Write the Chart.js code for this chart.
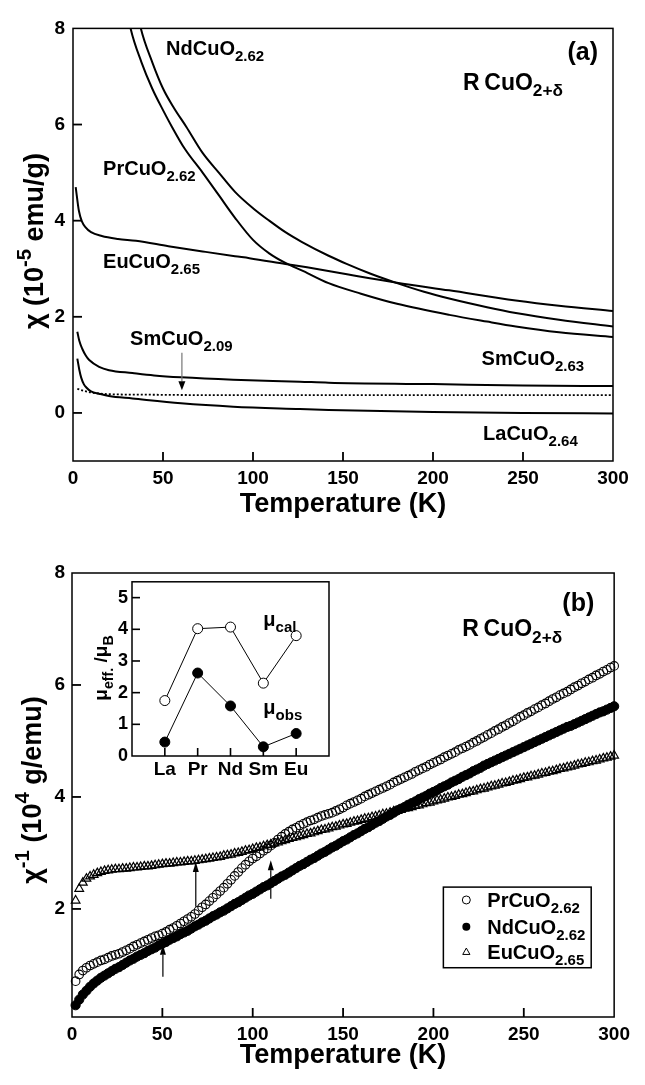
<!DOCTYPE html>
<html>
<head>
<meta charset="utf-8">
<script src="https://cdn.jsdelivr.net/npm/chart.js@4.4.0/dist/chart.umd.min.js"></script>
<style>
    html, body { margin: 0; padding: 0; background: #fff; }
    body { width: 645px; height: 1085px; position: relative; overflow: hidden; }
    canvas { position: absolute; }
    #chartA { left: 0; top: 0; }
    #chartB { left: 0; top: 540px; }
    #inset { left: 80px; top: 560px; }
</style>
</head>
<body>
<canvas id="chartA" width="645" height="540"></canvas>
<canvas id="chartB" width="645" height="545"></canvas>
<canvas id="inset" width="260" height="230"></canvas>
<script>
// ---- panel (a): chi vs T, 10^-5 emu/g ----
const prT = [28, 32, 38, 44, 50, 55, 62, 72, 81, 90, 100, 109, 118, 128, 142, 160, 180, 209, 230, 246, 270, 300]
const prChi = [8.8, 8.0, 7.3, 6.75, 6.3, 5.95, 5.5, 5.0, 4.53, 4.06, 3.6, 3.32, 3.12, 2.95, 2.7, 2.48, 2.27, 2.04, 1.9, 1.8, 1.68, 1.58]
const ndT = [34, 37.7, 44, 50, 56, 63, 72, 81, 90, 100, 109, 118, 127, 142, 152, 165, 180, 195, 209, 230, 246, 270, 300]
const ndChi = [8.7, 8.0, 7.3, 6.75, 6.35, 5.95, 5.41, 5.0, 4.6, 4.26, 4.0, 3.76, 3.56, 3.27, 3.1, 2.9, 2.7, 2.52, 2.38, 2.2, 2.08, 1.94, 1.8]
const euT = [1.5, 3.3, 5, 7, 10, 16, 25, 35, 53, 72, 90, 98, 118, 130, 153, 180, 209, 246, 270, 300]
const euChi = [4.7, 4.2, 3.98, 3.86, 3.76, 3.68, 3.62, 3.58, 3.47, 3.36, 3.26, 3.22, 3.1, 3.03, 2.88, 2.71, 2.55, 2.34, 2.23, 2.12]
const sm63T = [2.4, 3.5, 5.2, 7, 9, 14.5, 20, 33, 45, 60, 89, 126, 142, 200, 250, 300]
const sm63Chi = [1.69, 1.5, 1.33, 1.2, 1.1, 0.96, 0.89, 0.83, 0.78, 0.74, 0.69, 0.65, 0.63, 0.6, 0.57, 0.56]
const laT = [2.4, 3.5, 4.6, 6, 7.4, 10, 14.5, 20, 33, 60, 89, 126, 142, 200, 250, 300]
const laChi = [1.13, 0.9, 0.73, 0.6, 0.53, 0.45, 0.4, 0.35, 0.3, 0.2, 0.13, 0.08, 0.06, 0.02, 0.0, -0.01]
const sm09T = [2.4, 6, 11, 20, 40, 80, 150, 200, 250, 300]
const sm09Chi = [0.5, 0.46, 0.42, 0.39, 0.38, 0.37, 0.37, 0.37, 0.37, 0.37]

// ---- panel (b): 1/chi vs T, 10^4 g/emu ----
const bT = [
    2, 4, 6, 8, 10, 12, 14, 16, 18, 20,
    22, 24, 26, 28, 30, 32, 34, 36, 38, 40,
    42, 44, 46, 48, 50, 52, 54, 56, 58, 60,
    62, 64, 66, 68, 70, 72, 74, 76, 78, 80,
    82, 84, 86, 88, 90, 92, 94, 96, 98, 100,
    102, 104, 106, 108, 110, 112, 114, 116, 118, 120,
    122, 124, 126, 128, 130, 132, 134, 136, 138, 140,
    142, 144, 146, 148, 150, 152, 154, 156, 158, 160,
    162, 164, 166, 168, 170, 172, 174, 176, 178, 180,
    182, 184, 186, 188, 190, 192, 194, 196, 198, 200,
    202, 204, 206, 208, 210, 212, 214, 216, 218, 220,
    222, 224, 226, 228, 230, 232, 234, 236, 238, 240,
    242, 244, 246, 248, 250, 252, 254, 256, 258, 260,
    262, 264, 266, 268, 270, 272, 274, 276, 278, 280,
    282, 284, 286, 288, 290, 292, 294, 296, 298, 300]
const bPr = [
    0.71, 0.83, 0.90, 0.95, 0.99, 1.02, 1.05, 1.08, 1.10, 1.13,
    1.16, 1.18, 1.20, 1.23, 1.26, 1.29, 1.33, 1.36, 1.39, 1.42,
    1.45, 1.48, 1.51, 1.53, 1.56, 1.59, 1.63, 1.66, 1.70, 1.74,
    1.78, 1.82, 1.86, 1.91, 1.97, 2.03, 2.08, 2.14, 2.20, 2.26,
    2.32, 2.38, 2.45, 2.52, 2.59, 2.66, 2.73, 2.79, 2.85, 2.90,
    2.94, 2.99, 3.04, 3.08, 3.13, 3.18, 3.24, 3.29, 3.34, 3.38,
    3.42, 3.45, 3.49, 3.52, 3.55, 3.58, 3.60, 3.63, 3.66, 3.68,
    3.70, 3.72, 3.75, 3.78, 3.81, 3.85, 3.88, 3.91, 3.94, 3.97,
    4.01, 4.04, 4.07, 4.10, 4.13, 4.16, 4.19, 4.22, 4.26, 4.29,
    4.32, 4.35, 4.38, 4.41, 4.45, 4.48, 4.51, 4.54, 4.58, 4.61,
    4.64, 4.67, 4.71, 4.74, 4.77, 4.80, 4.84, 4.87, 4.90, 4.93,
    4.97, 5.00, 5.04, 5.07, 5.11, 5.14, 5.18, 5.21, 5.25, 5.28,
    5.32, 5.35, 5.39, 5.43, 5.46, 5.50, 5.53, 5.57, 5.60, 5.64,
    5.67, 5.71, 5.75, 5.78, 5.82, 5.85, 5.88, 5.92, 5.96, 5.99,
    6.03, 6.06, 6.10, 6.13, 6.17, 6.20, 6.24, 6.27, 6.31, 6.34]
const bNd = [
    0.28, 0.38, 0.47, 0.54, 0.61, 0.67, 0.72, 0.77, 0.81, 0.85,
    0.89, 0.93, 0.96, 1.00, 1.04, 1.08, 1.11, 1.15, 1.18, 1.21,
    1.25, 1.28, 1.31, 1.35, 1.38, 1.41, 1.45, 1.48, 1.51, 1.55,
    1.58, 1.61, 1.65, 1.69, 1.72, 1.76, 1.79, 1.83, 1.87, 1.90,
    1.94, 1.97, 2.01, 2.05, 2.09, 2.12, 2.16, 2.20, 2.24, 2.27,
    2.31, 2.35, 2.39, 2.42, 2.46, 2.50, 2.54, 2.58, 2.61, 2.65,
    2.69, 2.73, 2.77, 2.80, 2.84, 2.88, 2.91, 2.95, 2.99, 3.02,
    3.06, 3.10, 3.13, 3.17, 3.21, 3.24, 3.28, 3.32, 3.35, 3.39,
    3.43, 3.46, 3.50, 3.54, 3.57, 3.61, 3.65, 3.68, 3.72, 3.76,
    3.79, 3.82, 3.86, 3.89, 3.92, 3.96, 3.99, 4.02, 4.06, 4.09,
    4.12, 4.16, 4.19, 4.22, 4.26, 4.29, 4.32, 4.36, 4.39, 4.42,
    4.46, 4.49, 4.52, 4.56, 4.59, 4.62, 4.65, 4.68, 4.71, 4.74,
    4.77, 4.80, 4.83, 4.86, 4.89, 4.92, 4.95, 4.98, 5.01, 5.04,
    5.07, 5.10, 5.13, 5.16, 5.19, 5.22, 5.25, 5.27, 5.30, 5.33,
    5.36, 5.39, 5.42, 5.45, 5.48, 5.51, 5.53, 5.56, 5.59, 5.62]
const bEu = [
    2.15, 2.36, 2.47, 2.54, 2.58, 2.61, 2.64, 2.66, 2.68, 2.69,
    2.70, 2.71, 2.71, 2.72, 2.72, 2.73, 2.74, 2.74, 2.75, 2.76,
    2.76, 2.77, 2.78, 2.79, 2.80, 2.81, 2.81, 2.82, 2.83, 2.83,
    2.84, 2.85, 2.85, 2.86, 2.87, 2.88, 2.89, 2.90, 2.91, 2.92,
    2.93, 2.95, 2.96, 2.97, 2.99, 3.00, 3.02, 3.04, 3.05, 3.07,
    3.09, 3.10, 3.12, 3.14, 3.15, 3.17, 3.19, 3.21, 3.23, 3.25,
    3.27, 3.28, 3.30, 3.32, 3.34, 3.35, 3.37, 3.39, 3.41, 3.42,
    3.44, 3.46, 3.47, 3.49, 3.51, 3.52, 3.54, 3.56, 3.57, 3.59,
    3.61, 3.62, 3.64, 3.65, 3.67, 3.69, 3.70, 3.72, 3.74, 3.75,
    3.77, 3.79, 3.80, 3.82, 3.84, 3.85, 3.87, 3.89, 3.90, 3.92,
    3.94, 3.95, 3.97, 3.99, 4.00, 4.02, 4.04, 4.05, 4.07, 4.09,
    4.10, 4.12, 4.14, 4.15, 4.17, 4.19, 4.20, 4.22, 4.24, 4.25,
    4.27, 4.29, 4.30, 4.32, 4.34, 4.35, 4.37, 4.38, 4.40, 4.42,
    4.43, 4.45, 4.46, 4.48, 4.50, 4.51, 4.53, 4.54, 4.56, 4.58,
    4.59, 4.61, 4.62, 4.64, 4.65, 4.67, 4.69, 4.70, 4.72, 4.74]

// ---- inset: effective moments ----
const elements = ['La', 'Pr', 'Nd', 'Sm', 'Eu']
const muCal = [1.75, 4.02, 4.07, 2.3, 3.8]
const muObs = [0.44, 2.62, 1.58, 0.29, 0.71]

// axis tick values
const tempTicks = [50, 100, 150, 200, 250]
const chiTicks = [0, 2, 4, 6]
const invTicks = [2, 4, 6]
const muTicks = [1, 2, 3, 4, 5]
const elemTicks = [0, 1, 2, 3, 4]

const FONT = '"Liberation Sans", Arial, Helvetica, sans-serif'
Chart.defaults.color = '#000'
Chart.defaults.font.family = FONT
Chart.defaults.font.weight = 'bold'

function xy(xs, ys) {
    return xs.map((x, i) => ({ x: x, y: ys[i] }))
}

// text with sub/superscript pieces; y is the middle of the capitals
function drawRich(ctx, parts, x, y, size, align) {
    const base = y + size * 0.36
    const items = parts.map(p => {
        const kind = p[1] || ''
        const s = kind ? size * 0.75 : size
        ctx.font = 'bold ' + s + 'px ' + FONT
        return { t: p[0], kind: kind, s: s, w: ctx.measureText(p[0]).width }
    })
    const total = items.reduce((a, it) => a + it.w, 0)
    let cx = align === 'right' ? x - total : align === 'center' ? x - total / 2 : x
    ctx.textAlign = 'left'
    ctx.textBaseline = 'alphabetic'
    for (const it of items) {
        ctx.font = 'bold ' + it.s + 'px ' + FONT
        let dy = 0
        if (it.kind === 'sub') dy = size * 0.3
        if (it.kind === 'sup') dy = -size * 0.42
        ctx.fillText(it.t, cx, base + dy)
        cx += it.w
    }
}

function drawArrow(ctx, x, yTail, yTip, lineColor, hl, hw) {
    const dir = yTip > yTail ? 1 : -1
    ctx.strokeStyle = lineColor
    ctx.lineWidth = 1.2
    ctx.beginPath()
    ctx.moveTo(x, yTail)
    ctx.lineTo(x, yTip - dir * hl)
    ctx.stroke()
    ctx.fillStyle = '#000'
    ctx.beginPath()
    ctx.moveTo(x, yTip)
    ctx.lineTo(x - hw / 2, yTip - dir * hl)
    ctx.lineTo(x + hw / 2, yTip - dir * hl)
    ctx.closePath()
    ctx.fill()
}

function marker(ctx, style, x, y, r) {
    ctx.strokeStyle = '#000'
    ctx.fillStyle = '#000'
    ctx.lineWidth = 1
    ctx.beginPath()
    if (style === 'tri') {
        ctx.moveTo(x, y - r)
        ctx.lineTo(x - r * 0.9, y + r * 0.6)
        ctx.lineTo(x + r * 0.9, y + r * 0.6)
        ctx.closePath()
        ctx.stroke()
    } else {
        ctx.arc(x, y, r, 0, Math.PI * 2)
        if (style === 'filled') ctx.fill()
        else ctx.stroke()
    }
}

// inward tick marks as small filled bars
function tickBars(ctx, a, sx, sy, cfg) {
    const w = cfg.tickWidth || 2
    ctx.fillStyle = '#000'
    for (const v of cfg.xTicks) {
        const px = sx.getPixelForValue(v)
        ctx.fillRect(px - w / 2, a.bottom - cfg.tickLen, w, cfg.tickLen)
    }
    for (const v of cfg.yTicks) {
        const py = sy.getPixelForValue(v)
        ctx.fillRect(a.left, py - w / 2, cfg.tickLen, w)
    }
}

function decor(cfg) {
    return {
        id: 'decor',
        beforeDraw(chart) {
            if (!cfg.whiteArea) return
            const a = chart.chartArea
            chart.ctx.save()
            chart.ctx.fillStyle = '#fff'
            chart.ctx.fillRect(a.left, a.top, a.right - a.left, a.bottom - a.top)
            chart.ctx.restore()
        },
        afterDraw(chart) {
            const ctx = chart.ctx
            const a = chart.chartArea
            const sx = chart.scales.x
            const sy = chart.scales.y
            ctx.save()
            ctx.strokeStyle = '#000'
            ctx.lineWidth = cfg.frame || 1.5
            ctx.strokeRect(a.left, a.top, a.right - a.left, a.bottom - a.top)
            tickBars(ctx, a, sx, sy, cfg)
            ctx.fillStyle = '#000'
            for (const l of cfg.labels || []) {
                ctx.fillStyle = '#000'
                drawRich(ctx, l.parts, sx.getPixelForValue(l.x), sy.getPixelForValue(l.y), l.size || 20, l.align)
            }
            for (const ar of cfg.arrows || []) {
                drawArrow(ctx, sx.getPixelForValue(ar.x), sy.getPixelForValue(ar.from), sy.getPixelForValue(ar.to),
                    ar.color || '#000', ar.hl || 9, ar.hw || 6)
            }
            if (cfg.ytitle) {
                const t = cfg.ytitle
                ctx.save()
                ctx.translate(t.cx, t.cy)
                ctx.rotate(-Math.PI / 2)
                ctx.fillStyle = '#000'
                drawRich(ctx, t.parts, 0, 0, t.size, 'center')
                ctx.restore()
            }
            if (cfg.legend) {
                const lg = cfg.legend
                const x1 = sx.getPixelForValue(lg.x1)
                const x2 = sx.getPixelForValue(lg.x2)
                const y1 = sy.getPixelForValue(lg.y1)
                const y2 = sy.getPixelForValue(lg.y2)
                ctx.lineWidth = 1.5
                ctx.strokeStyle = '#000'
                ctx.strokeRect(x1, y1, x2 - x1, y2 - y1)
                for (const it of lg.items) {
                    const py = sy.getPixelForValue(it.y)
                    marker(ctx, it.style, sx.getPixelForValue(lg.markX), py, 4)
                    ctx.fillStyle = '#000'
                    drawRich(ctx, it.parts, sx.getPixelForValue(lg.textX), py, 20, 'left')
                }
            }
            ctx.restore()
        }
    }
}

function tempAxis(height, titlePad) {
    return {
        type: 'linear', min: 0, max: 300,
        afterFit(s) { s.height = height },
        grid: { display: false, drawTicks: true, tickLength: -9 },
        border: { display: false },
        ticks: { stepSize: 50, padding: 15, autoSkip: false, maxRotation: 0, font: { size: 19, weight: 'bold' } },
        title: {
            display: true, text: 'Temperature (K)',
            font: { size: 27, weight: 'bold', lineHeight: 1 },
            padding: { top: 0, bottom: titlePad }
        }
    }
}

function valueAxis(min, max, width, pad) {
    return {
        type: 'linear', min: min, max: max,
        afterFit(s) { s.width = width },
        grid: { display: false, drawTicks: true, tickLength: -9 },
        border: { display: false },
        ticks: { stepSize: 2, includeBounds: false, padding: pad, font: { size: 19, weight: 'bold' } }
    }
}

function lineSet(xs, ys, dash) {
    return {
        data: xy(xs, ys),
        borderColor: '#000',
        borderWidth: dash ? 1.8 : 2,
        borderDash: dash ? [2, 2] : [],
        pointRadius: 0,
        fill: false,
        cubicInterpolationMode: 'monotone'
    }
}

const base = {
    responsive: false,
    animation: false,
    devicePixelRatio: 1,
    events: [],
    plugins: { legend: { display: false }, tooltip: { enabled: false } }
}

// panel (a)
new Chart(document.getElementById('chartA'), {
    type: 'line',
    data: {
        datasets: [
            lineSet(prT, prChi),
            lineSet(ndT, ndChi),
            lineSet(euT, euChi),
            lineSet(sm63T, sm63Chi),
            lineSet(laT, laChi),
            lineSet(sm09T, sm09Chi, true)
        ]
    },
    options: Object.assign({}, base, {
        layout: { padding: { top: 15, right: 32, left: 0, bottom: 0 } },
        scales: {
            x: tempAxis(79, 21.5),
            y: valueAxis(-1, 8, 73, 17)
        }
    }),
    plugins: [decor({
        xTicks: tempTicks,
        yTicks: chiTicks,
        tickLen: 9,
        tickWidth: 1.8,
        labels: [
            { x: 51.7, y: 7.6, parts: [['NdCuO'], ['2.62', 'sub']] },
            { x: 16.7, y: 5.09, parts: [['PrCuO'], ['2.62', 'sub']] },
            { x: 16.7, y: 3.16, parts: [['EuCuO'], ['2.65', 'sub']] },
            { x: 31.7, y: 1.56, parts: [['SmCuO'], ['2.09', 'sub']] },
            { x: 227, y: 1.14, parts: [['SmCuO'], ['2.63', 'sub']] },
            { x: 227.8, y: -0.41, parts: [['LaCuO'], ['2.64', 'sub']] },
            { x: 291.7, y: 7.54, parts: [['(a)']], align: 'right', size: 25 },
            { x: 216.7, y: 6.9, parts: [['R\u2009CuO'], ['2+\u03b4', 'sub']], size: 23 }
        ],
        arrows: [{ x: 60.5, from: 1.25, to: 0.47, color: '#777', hl: 9, hw: 7 }],
        ytitle: { cx: 33, cy: 241, size: 27, parts: [['\u03c7 (10'], ['-5', 'sup'], [' emu/g)']] }
    })]
})

// panel (b)
new Chart(document.getElementById('chartB'), {
    type: 'scatter',
    data: {
        datasets: [
            { data: xy(bT, bNd), pointStyle: 'circle', pointRadius: 4.6, backgroundColor: '#000', borderColor: '#000', borderWidth: 1, clip: false },
            { data: xy(bT, bPr), pointStyle: 'circle', pointRadius: 4.3, backgroundColor: 'rgba(0,0,0,0)', borderColor: '#000', borderWidth: 1.1, clip: false },
            { data: xy(bT, bEu), pointStyle: 'triangle', pointRadius: 5, backgroundColor: 'rgba(0,0,0,0)', borderColor: '#000', borderWidth: 1.2, clip: false }
        ]
    },
    options: Object.assign({}, base, {
        layout: { padding: { top: 33, right: 30, left: 0, bottom: 0 } },
        scales: {
            x: tempAxis(68, 15.5),
            y: valueAxis(0.07, 8, 72, 16)
        }
    }),
    plugins: [decor({
        xTicks: tempTicks,
        yTicks: invTicks,
        tickLen: 9,
        tickWidth: 1.8,
        labels: [
            { x: 289, y: 7.48, parts: [['(b)']], align: 'right', size: 25 },
            { x: 216, y: 7.02, parts: [['R\u2009CuO'], ['2+\u03b4', 'sub']], size: 23 }
        ],
        arrows: [
            { x: 50.3, from: 0.79, to: 1.36, hl: 10, hw: 6 },
            { x: 68.5, from: 2.04, to: 2.84, hl: 10, hw: 6 },
            { x: 110, from: 2.18, to: 2.87, hl: 10, hw: 6 }
        ],
        ytitle: { cx: 31, cy: 250, size: 27, parts: [['\u03c7'], ['-1', 'sup'], [' (10'], ['4', 'sup'], [' g/emu)']] },
        legend: {
            x1: 205.5, x2: 287.3, y1: 2.39, y2: 0.95, markX: 218.2, textX: 229.8,
            items: [
                { style: 'open', y: 2.16, parts: [['PrCuO'], ['2.62', 'sub']] },
                { style: 'filled', y: 1.68, parts: [['NdCuO'], ['2.62', 'sub']] },
                { style: 'tri', y: 1.23, parts: [['EuCuO'], ['2.65', 'sub']] }
            ]
        }
    })]
})

// inset of panel (b)
new Chart(document.getElementById('inset'), {
    type: 'line',
    data: {
        datasets: [
            {
                data: xy(elemTicks, muCal), borderColor: '#000', borderWidth: 1,
                pointStyle: 'circle', pointRadius: 5, pointBackgroundColor: '#fff', pointBorderColor: '#000', pointBorderWidth: 1
            },
            {
                data: xy(elemTicks, muObs), borderColor: '#000', borderWidth: 1,
                pointStyle: 'circle', pointRadius: 5, pointBackgroundColor: '#000', pointBorderColor: '#000', pointBorderWidth: 1
            }
        ]
    },
    options: Object.assign({}, base, {
        layout: { padding: { top: 13, right: 11, left: 0, bottom: 0 } },
        scales: {
            x: {
                type: 'linear', min: -1, max: 5,
                afterFit(s) { s.height = 34 },
                grid: { display: false, drawTicks: true, tickLength: -7 },
                border: { display: false },
                ticks: {
                    stepSize: 1, padding: 9, autoSkip: false, maxRotation: 0,
                    font: { size: 19, weight: 'bold' },
                    callback: v => elements[v] || ''
                }
            },
            y: {
                type: 'linear', min: 0, max: 5.5,
                afterFit(s) { s.width = 52 },
                grid: { display: false, drawTicks: true, tickLength: -7 },
                border: { display: false },
                ticks: { stepSize: 1, includeBounds: false, padding: 11, font: { size: 18, weight: 'bold' } }
            }
        }
    }),
    plugins: [decor({
        whiteArea: true,
        frame: 1.5,
        xTicks: elemTicks,
        yTicks: muTicks,
        tickLen: 8,
        tickWidth: 1.6,
        labels: [
            { x: 3.0, y: 4.34, parts: [['\u03bc'], ['cal', 'sub']], size: 20 },
            { x: 3.0, y: 1.55, parts: [['\u03bc'], ['obs', 'sub']], size: 20 }
        ],
        ytitle: { cx: 20, cy: 108, size: 19, parts: [['\u03bc'], ['eff.', 'sub'], [' /\u03bc'], ['B', 'sub']] }
    })]
})
</script>
</body>
</html>
